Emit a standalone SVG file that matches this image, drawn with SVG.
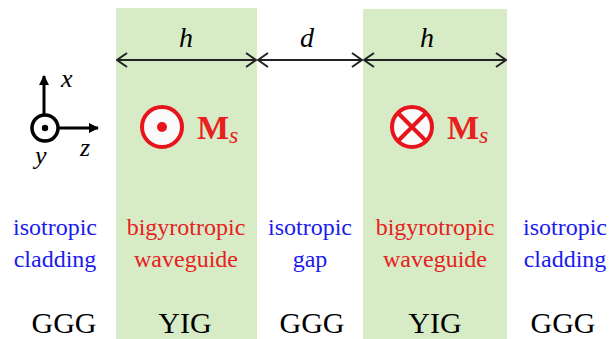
<svg xmlns="http://www.w3.org/2000/svg" width="611" height="339" viewBox="0 0 611 339">
<style>
.lab{font-size:24px;text-anchor:middle}
.blue{fill:#1a1aee}
.red{fill:#e82020}
.mat{font-size:30px;text-anchor:middle;fill:#000}
.it{font-style:italic}
.dim{stroke:#222;stroke-width:2;fill:none}
</style>
<defs>
<marker id="ah" viewBox="0 0 12 16" refX="11" refY="8" markerWidth="12" markerHeight="16" markerUnits="userSpaceOnUse" orient="auto-start-reverse">
<path d="M1 1 L11 8 L1 15" stroke="#222" stroke-width="2" fill="none"/>
</marker>
<marker id="fa" viewBox="0 0 10 10" refX="9" refY="5" markerWidth="10" markerHeight="10" markerUnits="userSpaceOnUse" orient="auto">
<path d="M0 0 L10 5 L0 10 Z" fill="#000"/>
</marker>
</defs>
<rect width="611" height="339" fill="#fff"/>
<g id="yig1">
<rect x="116" y="8" width="141" height="331" fill="#d6ebc6"/>
</g>
<g id="yig2">
<rect x="363" y="9" width="144" height="330" fill="#d6ebc6"/>
</g>
<g id="connectors">
<line class="dim" x1="117" y1="60" x2="256" y2="60" marker-start="url(#ah)" marker-end="url(#ah)"/>
<line class="dim" x1="258" y1="60" x2="362" y2="60" marker-start="url(#ah)" marker-end="url(#ah)"/>
<line class="dim" x1="364" y1="60" x2="506" y2="60" marker-start="url(#ah)" marker-end="url(#ah)"/>
<line x1="44" y1="114" x2="44" y2="76" stroke="#000" stroke-width="3" marker-end="url(#fa)"/>
<line x1="59" y1="128" x2="98" y2="128" stroke="#000" stroke-width="3" marker-end="url(#fa)"/>
</g>
<g id="dims">
<text class="it" style="font-family:'Liberation Serif',serif" x="186" y="47" font-size="28" text-anchor="middle">h</text>
<text class="it" style="font-family:'Liberation Serif',serif" x="307" y="47" font-size="28" text-anchor="middle">d</text>
<text class="it" style="font-family:'Liberation Serif',serif" x="427" y="47" font-size="28" text-anchor="middle">h</text>
</g>
<g id="axes">
<circle cx="45" cy="128" r="13" fill="#fff" stroke="#000" stroke-width="3.5"/>
<circle cx="45" cy="128" r="3.2" fill="#000"/>
<text class="it" style="font-family:'Liberation Serif',serif" x="61" y="87" font-size="26">x</text>
<text class="it" style="font-family:'Liberation Serif',serif" x="80" y="156" font-size="26">z</text>
<text class="it" style="font-family:'Liberation Serif',serif" x="35" y="164" font-size="26">y</text>
</g>
<g id="ms1">
<circle cx="162" cy="127" r="20" fill="#fafafa" stroke="#e8141c" stroke-width="4"/>
<circle cx="162" cy="127" r="5" fill="#e8141c"/>
<text class="red" style="font-family:'Liberation Serif',serif" x="197" y="139" font-size="34" font-weight="bold">M<tspan class="it" style="font-family:'Liberation Serif',serif" font-weight="normal" font-size="24" dy="4">s</tspan></text>
</g>
<g id="ms2">
<circle cx="412" cy="127" r="20" fill="#fafafa" stroke="#e8141c" stroke-width="4"/>
<path d="M398 113 L426 141 M426 113 L398 141" stroke="#e8141c" stroke-width="4"/>
<text class="red" style="font-family:'Liberation Serif',serif" x="447" y="139" font-size="34" font-weight="bold">M<tspan class="it" style="font-family:'Liberation Serif',serif" font-weight="normal" font-size="24" dy="4">s</tspan></text>
</g>
<g id="col1">
<text class="lab blue" style="font-family:'Liberation Serif',serif" x="55" y="235">isotropic</text>
<text class="lab blue" style="font-family:'Liberation Serif',serif" x="55" y="267">cladding</text>
<text class="mat" style="font-family:'Liberation Serif',serif" x="64" y="333">GGG</text>
</g>
<g id="col2">
<text class="lab red" style="font-family:'Liberation Serif',serif" x="186" y="235">bigyrotropic</text>
<text class="lab red" style="font-family:'Liberation Serif',serif" x="186" y="267">waveguide</text>
<text class="mat" style="font-family:'Liberation Serif',serif" x="185" y="333">YIG</text>
</g>
<g id="col3">
<text class="lab blue" style="font-family:'Liberation Serif',serif" x="310" y="235">isotropic</text>
<text class="lab blue" style="font-family:'Liberation Serif',serif" x="310" y="267">gap</text>
<text class="mat" style="font-family:'Liberation Serif',serif" x="312" y="333">GGG</text>
</g>
<g id="col4">
<text class="lab red" style="font-family:'Liberation Serif',serif" x="435" y="235">bigyrotropic</text>
<text class="lab red" style="font-family:'Liberation Serif',serif" x="435" y="267">waveguide</text>
<text class="mat" style="font-family:'Liberation Serif',serif" x="435" y="333">YIG</text>
</g>
<g id="col5">
<text class="lab blue" style="font-family:'Liberation Serif',serif" x="565" y="235">isotropic</text>
<text class="lab blue" style="font-family:'Liberation Serif',serif" x="565" y="267">cladding</text>
<text class="mat" style="font-family:'Liberation Serif',serif" x="563" y="333">GGG</text>
</g>
</svg>
